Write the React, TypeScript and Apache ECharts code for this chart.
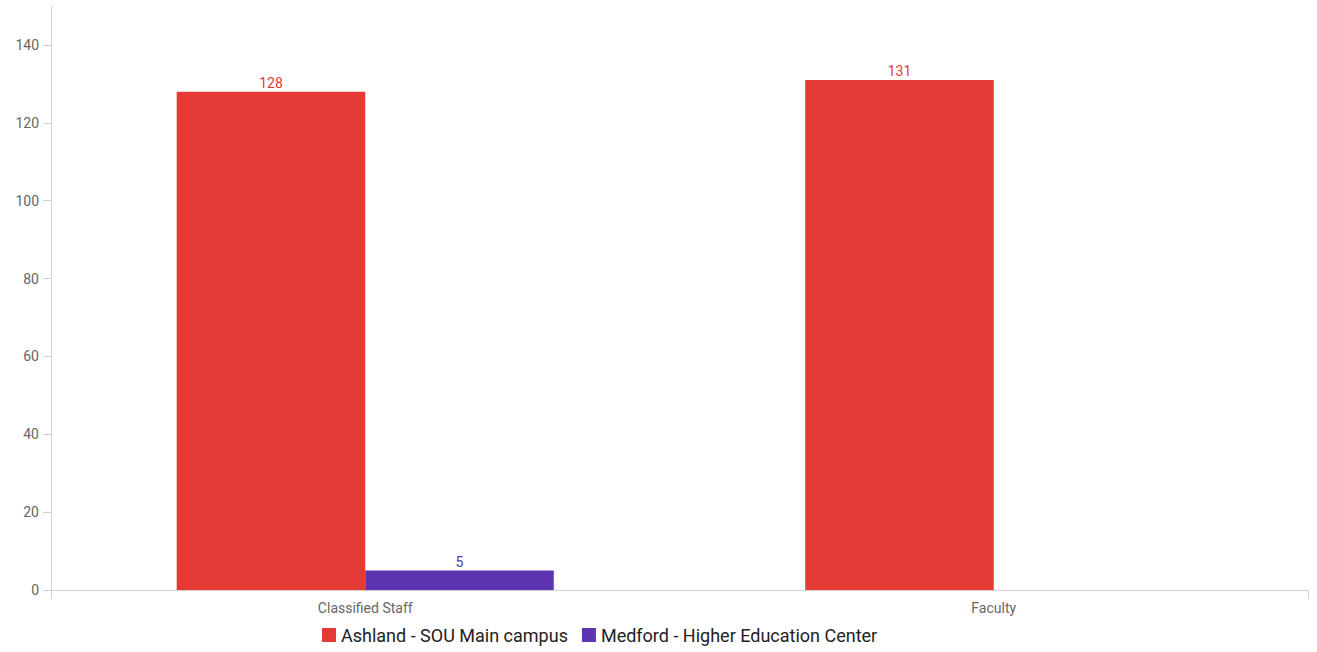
import React, { useEffect, useRef } from "react";
import * as echarts from "echarts";

const categories = ["Classified Staff", "Faculty"];
const ashland = [128, 131];
const medford = [5, null];
const seriesNames = ["Ashland - SOU Main campus", "Medford - Higher Education Center"];
const yTicks = [0, 20, 40, 60, 80, 100, 120, 140];

export default function App() {
  const ref = useRef<HTMLDivElement>(null);
  useEffect(() => {
    const chart = echarts.init(ref.current!, null, { renderer: "svg" });
    chart.setOption({
      animation: false,
      textStyle: { fontFamily: "Roboto" },
      grid: { left: 51, right: 9, top: 6, bottom: 62, containLabel: false },
      legend: {
        bottom: 3,
        left: 317,
        itemWidth: 14,
        itemHeight: 14,
        itemGap: 14,
        icon: "rect",
        textStyle: { fontSize: 18, color: "#222", fontFamily: "Roboto" },
        data: seriesNames,
      },
      xAxis: {
        type: "category",
        data: categories,
        axisLine: { lineStyle: { color: "#d0d0d0", width: 1 } },
        axisTick: { show: true, interval: (i: number) => i === 1, lineStyle: { color: "#d0d0d0" }, length: 9 },
        axisLabel: { color: "#666", fontSize: 14, margin: 11 },
      },
      yAxis: {
        type: "value",
        min: 0,
        max: 150,
        interval: 20,
        splitLine: { show: false },
        axisLine: { show: true, lineStyle: { color: "#d0d0d0" } },
        axisTick: { show: true, length: 8, lineStyle: { color: "#d0d0d0" }, customValues: yTicks },
        axisLabel: { color: "#666", fontSize: 14, margin: 12, customValues: yTicks },
      },
      series: [
        {
          name: seriesNames[0],
          type: "bar",
          data: ashland,
          barWidth: "30%",
          barGap: "0%",
          itemStyle: { color: "#e53935" },
          label: { show: true, position: "top", color: "#e53935", fontSize: 14, distance: 2 },
        },
        {
          name: seriesNames[1],
          type: "bar",
          data: medford,
          barWidth: "30%",
          itemStyle: { color: "#5e35b1" },
          label: { show: true, position: "top", color: "#5e35b1", fontSize: 14, distance: 2 },
        },
      ],
    });
    return () => chart.dispose();
  }, []);
  return <div ref={ref} style={{ width: 1317, height: 652, position: "absolute", left: 0, top: 0 }} />;
}
